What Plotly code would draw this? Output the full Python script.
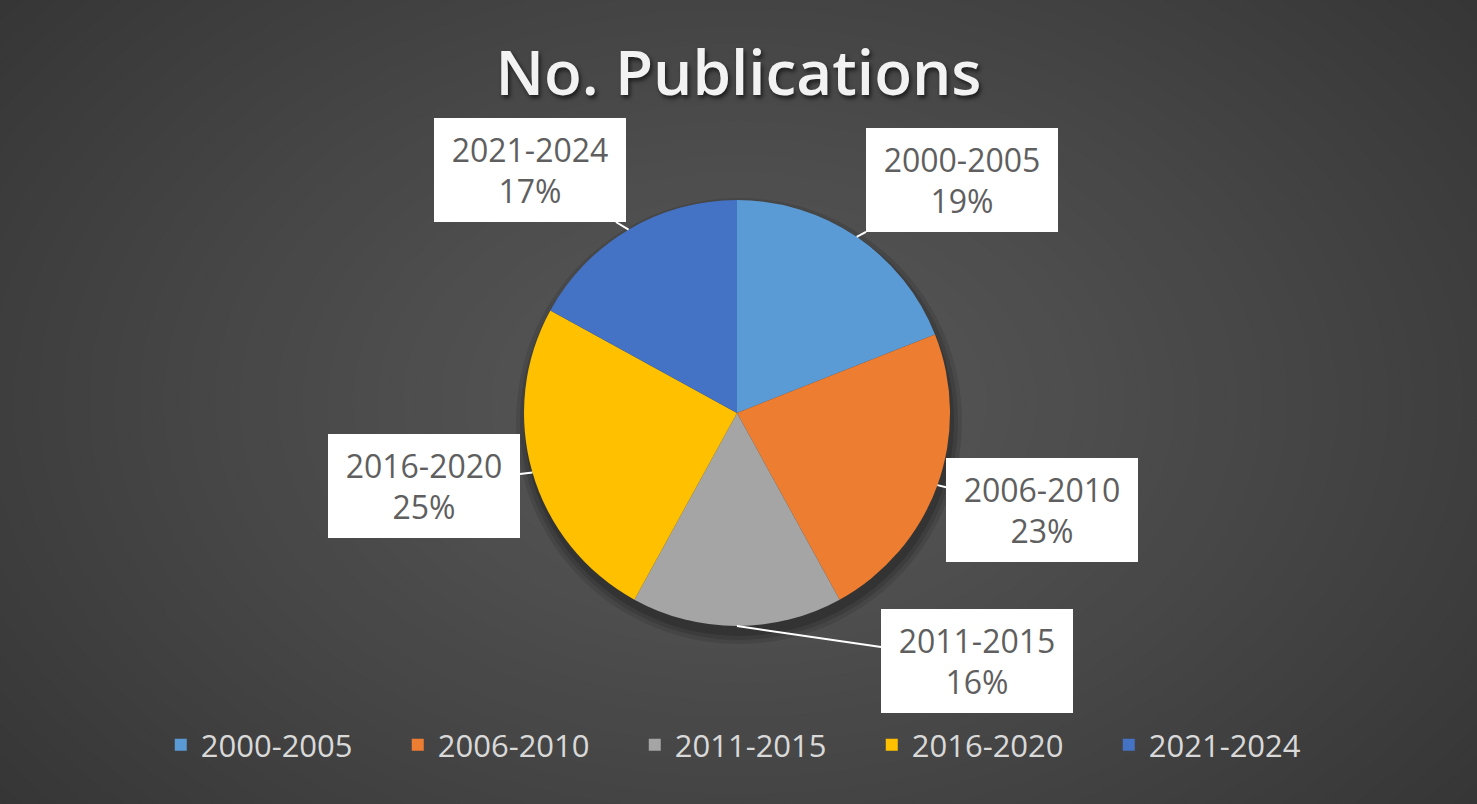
import math
import plotly.graph_objects as go

# ---- data ----
periods = ["2000-2005", "2006-2010", "2011-2015", "2016-2020", "2021-2024"]
shares = [19, 23, 16, 25, 17]
colors = ["#5B9BD5", "#ED7D31", "#A5A5A5", "#FFC000", "#4472C4"]
title_text = "No. Publications"

W, H = 1477, 804
cx, cy, R = 737, 413, 213  # pie centre / radius in pixels

fig = go.Figure()
fig.add_trace(go.Pie(
    labels=periods, values=shares, sort=False, direction="clockwise", rotation=0,
    marker=dict(colors=colors, line=dict(width=0)),
    textinfo="none", hoverinfo="label+percent",
    domain=dict(x=[(cx - R) / W, (cx + R) / W], y=[(H - cy - R) / H, (H - cy + R) / H]),
))

# background radial gradient approximation
shapes = []
n = 90
c_out, c_in = (0x2b, 0x2b, 0x2b), (0x58, 0x58, 0x58)
for i in range(n):
    t = i / (n - 1)
    r = 1.0 - 0.97 * t
    col = tuple(c_out[k] + (c_in[k] - c_out[k]) * (t ** 0.85) for k in range(3))
    rx = 0.78 * r
    ry = 0.98 * r
    ccx, ccy = 0.5, 0.5
    shapes.append(dict(type="circle", xref="paper", yref="paper",
                       x0=ccx - rx, x1=ccx + rx, y0=ccy - ry, y1=ccy + ry,
                       fillcolor="rgb(%.1f,%.1f,%.1f)" % col, line=dict(width=0), layer="below"))
# pie shadow
for k, a in enumerate([0.10, 0.12, 0.15]):
    grow = 10 - 4 * k
    shapes.append(dict(type="circle", xref="paper", yref="paper",
                       x0=(cx - R - grow + 2) / W, x1=(cx + R + grow + 2) / W,
                       y0=(H - cy - R - grow - 8) / H, y1=(H - cy + R + grow - 8) / H,
                       fillcolor="rgba(0,0,0,%.2f)" % a, line=dict(width=0), layer="below"))

# callout label box centres (pixels)
box_centres = [(962, 180), (1042, 510), (977, 661), (424, 486), (530, 170)]
annotations = []
total = sum(shares)
cum = 0
for lab, v, bc in zip(periods, shares, box_centres):
    mid = (cum + v / 2) / total
    cum += v
    ang = 2 * math.pi * mid
    tx = cx + R * math.sin(ang)
    ty = cy - R * math.cos(ang)
    pct = round(100 * v / total)
    annotations.append(dict(
        x=tx / W, y=1 - ty / H, xref="paper", yref="paper",
        text="%s<br>%d%%" % (lab, pct), showarrow=True, arrowhead=0,
        arrowwidth=2, arrowcolor="white", ax=bc[0] - tx, ay=bc[1] - ty,
        bgcolor="white", bordercolor="white", borderwidth=0, borderpad=2,
        width=188, height=100, align="center", valign="middle",
        font=dict(family="Open Sans", size=32, color="#5f5f5f"),
    ))

fig.update_layout(
    width=W, height=H, margin=dict(l=0, r=0, t=0, b=0),
    paper_bgcolor="#2b2b2b",
    title=dict(text=title_text, x=0.5, xanchor="center", y=1 - 73 / H, yanchor="middle",
               font=dict(family="Open Sans", size=62, color="#F2F2F2", weight=600,
                         shadow="2px 3px 4px rgba(0,0,0,0.6)")),
    legend=dict(orientation="h", x=0.51, xanchor="center", y=1 - 745 / H, yanchor="middle",
                font=dict(family="Open Sans", size=31, color="#D9D9D9"),
                entrywidth=192, entrywidthmode="pixels", bgcolor="rgba(0,0,0,0)"),
    shapes=shapes, annotations=annotations,
)

fig.write_html("out.html", config={"displayModeBar": False},
               post_script="document.body.style.margin='0';")
